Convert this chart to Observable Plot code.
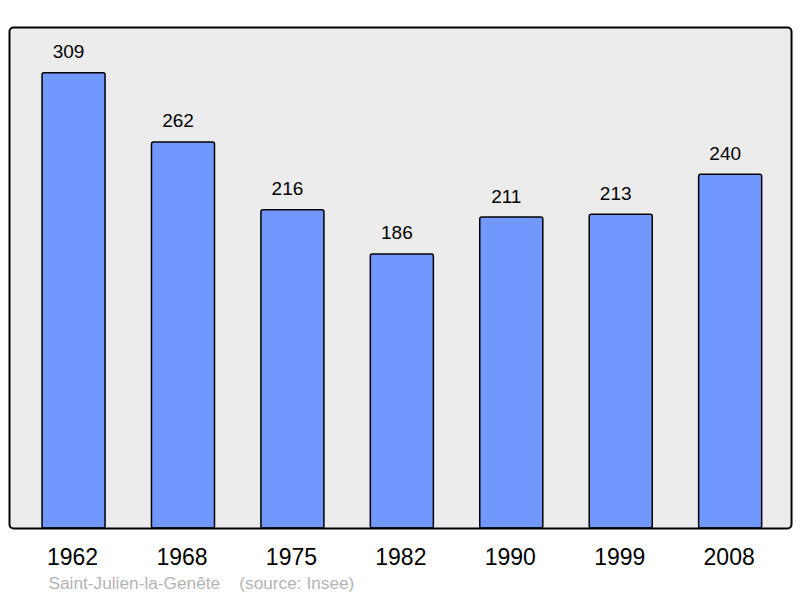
<!DOCTYPE html>
<html>
<head>
<meta charset="utf-8">
<script src="https://cdn.jsdelivr.net/npm/d3@7"></script>
<script src="https://cdn.jsdelivr.net/npm/@observablehq/plot@0.6"></script>
<style>
  html, body { margin: 0; padding: 0; background: #ffffff; }
  svg { display: block; }
</style>
</head>
<body>
<div id="chart"></div>
<script>
const years = ["1962", "1968", "1975", "1982", "1990", "1999", "2008"];
const population = [309, 262, 216, 186, 211, 213, 240];
const commune = "Saint-Julien-la-Genête";
const source = "(source: Insee)";

const data = years.map((y, i) => ({year: y, value: population[i]}));
const font = "'Liberation Sans', Arial, sans-serif";

const chart = Plot.plot({
  width: 800,
  height: 598,
  marginLeft: 9,
  marginRight: 9,
  marginTop: 27,
  marginBottom: 70,
  style: {fontFamily: font, background: "#ffffff"},
  x: {domain: years, range: [9.2, 794.5], round: false, paddingInner: 0.424, paddingOuter: 0.3, label: null},
  y: {domain: [0, 340], axis: null},
  marks: [
    Plot.frame({fill: "#ececec", stroke: "none", rx: 4}),
    Plot.barY(data, {x: "year", y: "value", fill: "#7098ff", stroke: "#000000", strokeWidth: 1.5, rx: 2}),
    Plot.text(data, {x: "year", y: "value", text: d => String(d.value), dx: -5.5, dy: -15, lineAnchor: "bottom", fontSize: 19, fill: "#000000"}),
    Plot.frame({fill: "none", stroke: "#000000", strokeWidth: 2, rx: 4}),
    Plot.axisX({tickSize: 0, tickPadding: 20, dx: -1.5, fontSize: 23, fill: "#000000", label: null}),
    Plot.text([commune + "\u00a0\u00a0\u00a0\u00a0" + source], {frameAnchor: "bottom-left", dx: 39, dy: 60, text: d => d, textAnchor: "start", fontSize: 17.25, fill: "#b4b4b4"})
  ]
});
document.getElementById("chart").appendChild(chart);
</script>
</body>
</html>
